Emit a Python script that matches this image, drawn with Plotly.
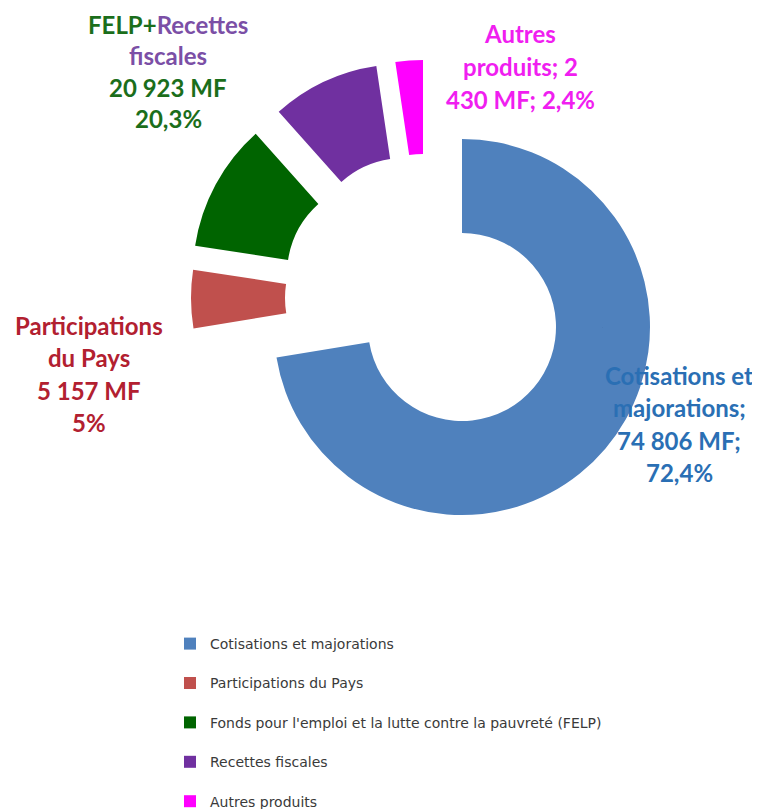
import plotly.graph_objects as go

# ---- data ----
categories = [
    "Cotisations et majorations",
    "Participations du Pays",
    "Fonds pour l'emploi et la lutte contre la pauvreté (FELP)",
    "Recettes fiscales",
    "Autres produits",
]
values_mf = [74806, 5157, 11360, 9563, 2430]
slice_colors = ["#4F81BD", "#C0504D", "#006400", "#7030A0", "#FF00FF"]

label_pcts = ["72,4%", "5%", "20,3%", "2,4%"]


def fmt(v):
    return f"{v:,}".replace(",", " ")


felp_rec = values_mf[2] + values_mf[3]

# ---- layout helpers (page pixels; the page body adds an 8px offset) ----
OFF = 8
W, H = 760 - OFF, 809 - OFF


def px_x(x):
    return (x - OFF) / W


def px_y(y):
    return 1 - (y - OFF) / H


# doughnut geometry: centre and outer radius, plus the explosion offset
# applied to each slice (Excel-style exploded doughnut)
CX, CY, R = 462, 327, 188
explode = [(0, 0), (-83, -29), (-81, -53), (-58, -75), (-39, -79)]

fig = go.Figure()

# one trace per slice so every slice can be exploded along its own offset
for i, (dx, dy) in enumerate(explode):
    cols = [c if j == i else "rgba(0,0,0,0)" for j, c in enumerate(slice_colors)]
    cx, cy = CX + dx, CY + dy
    fig.add_trace(go.Pie(
        labels=categories,
        values=values_mf,
        marker=dict(colors=cols, line=dict(width=0)),
        hole=0.5,
        sort=False,
        direction="clockwise",
        rotation=0,
        textinfo="none",
        hoverinfo="skip",
        showlegend=False,
        domain=dict(x=[px_x(cx - R), px_x(cx + R)],
                    y=[px_y(cy + R), px_y(cy - R)]),
    ))

# legend carrier (all colours, drawn at a negligible size inside the blue ring)
legend_labels = [c + "<br> " for c in categories[:-1]] + [categories[-1]]
fig.add_trace(go.Pie(
    labels=legend_labels,
    values=values_mf,
    marker=dict(colors=slice_colors, line=dict(width=0)),
    sort=False,
    direction="clockwise",
    textinfo="none",
    hoverinfo="skip",
    showlegend=True,
    domain=dict(x=[px_x(CX + 140), px_x(CX + 140.5)],
                y=[px_y(CY + 0.5), px_y(CY)]),
))

GREEN_T = "#1B6E1B"
PURPLE_T = "#7B4FA6"
blocks = [
    (["Cotisations et", "majorations;", f"{fmt(values_mf[0])} MF;", label_pcts[0]],
     "#2A6FB4", 679, 375, 32.5),
    (["Participations", "du Pays", f"{fmt(values_mf[1])} MF", label_pcts[1]],
     "#B22030", 89, 325, 32.5),
    ([f"FELP+<span style='color:{PURPLE_T}'>Recettes</span>",
      f"<span style='color:{PURPLE_T}'>fiscales</span>",
      f"{fmt(felp_rec)} MF", label_pcts[2]],
     GREEN_T, 168, 24, 31.5),
    (["Autres", f"produits; {fmt(values_mf[4])[:1]}",
      f"{fmt(values_mf[4])[2:]} MF; {label_pcts[3]}"],
     "#F01EF0", 520, 34, 32.5),
]
for lines, col, cx, cy, ls in blocks:
    for i, t in enumerate(lines):
        fig.add_annotation(
            text=t, xref="paper", yref="paper",
            x=px_x(cx), y=px_y(cy + i * ls),
            xanchor="center", yanchor="middle", showarrow=False,
            font=dict(family="Lato", size=24, color=col, weight="bold"),
        )

fig.update_layout(
    width=W, height=H,
    margin=dict(l=0, r=0, t=0, b=0, autoexpand=False),
    paper_bgcolor="white", plot_bgcolor="white",
    showlegend=True,
    legend=dict(
        x=px_x(170), xanchor="left", y=px_y(628), yanchor="top",
        font=dict(family="DejaVu Sans", size=14, color="#3A3A3A"),
        valign="top", bgcolor="rgba(0,0,0,0)",
    ),
)

fig.write_html("out.html")
